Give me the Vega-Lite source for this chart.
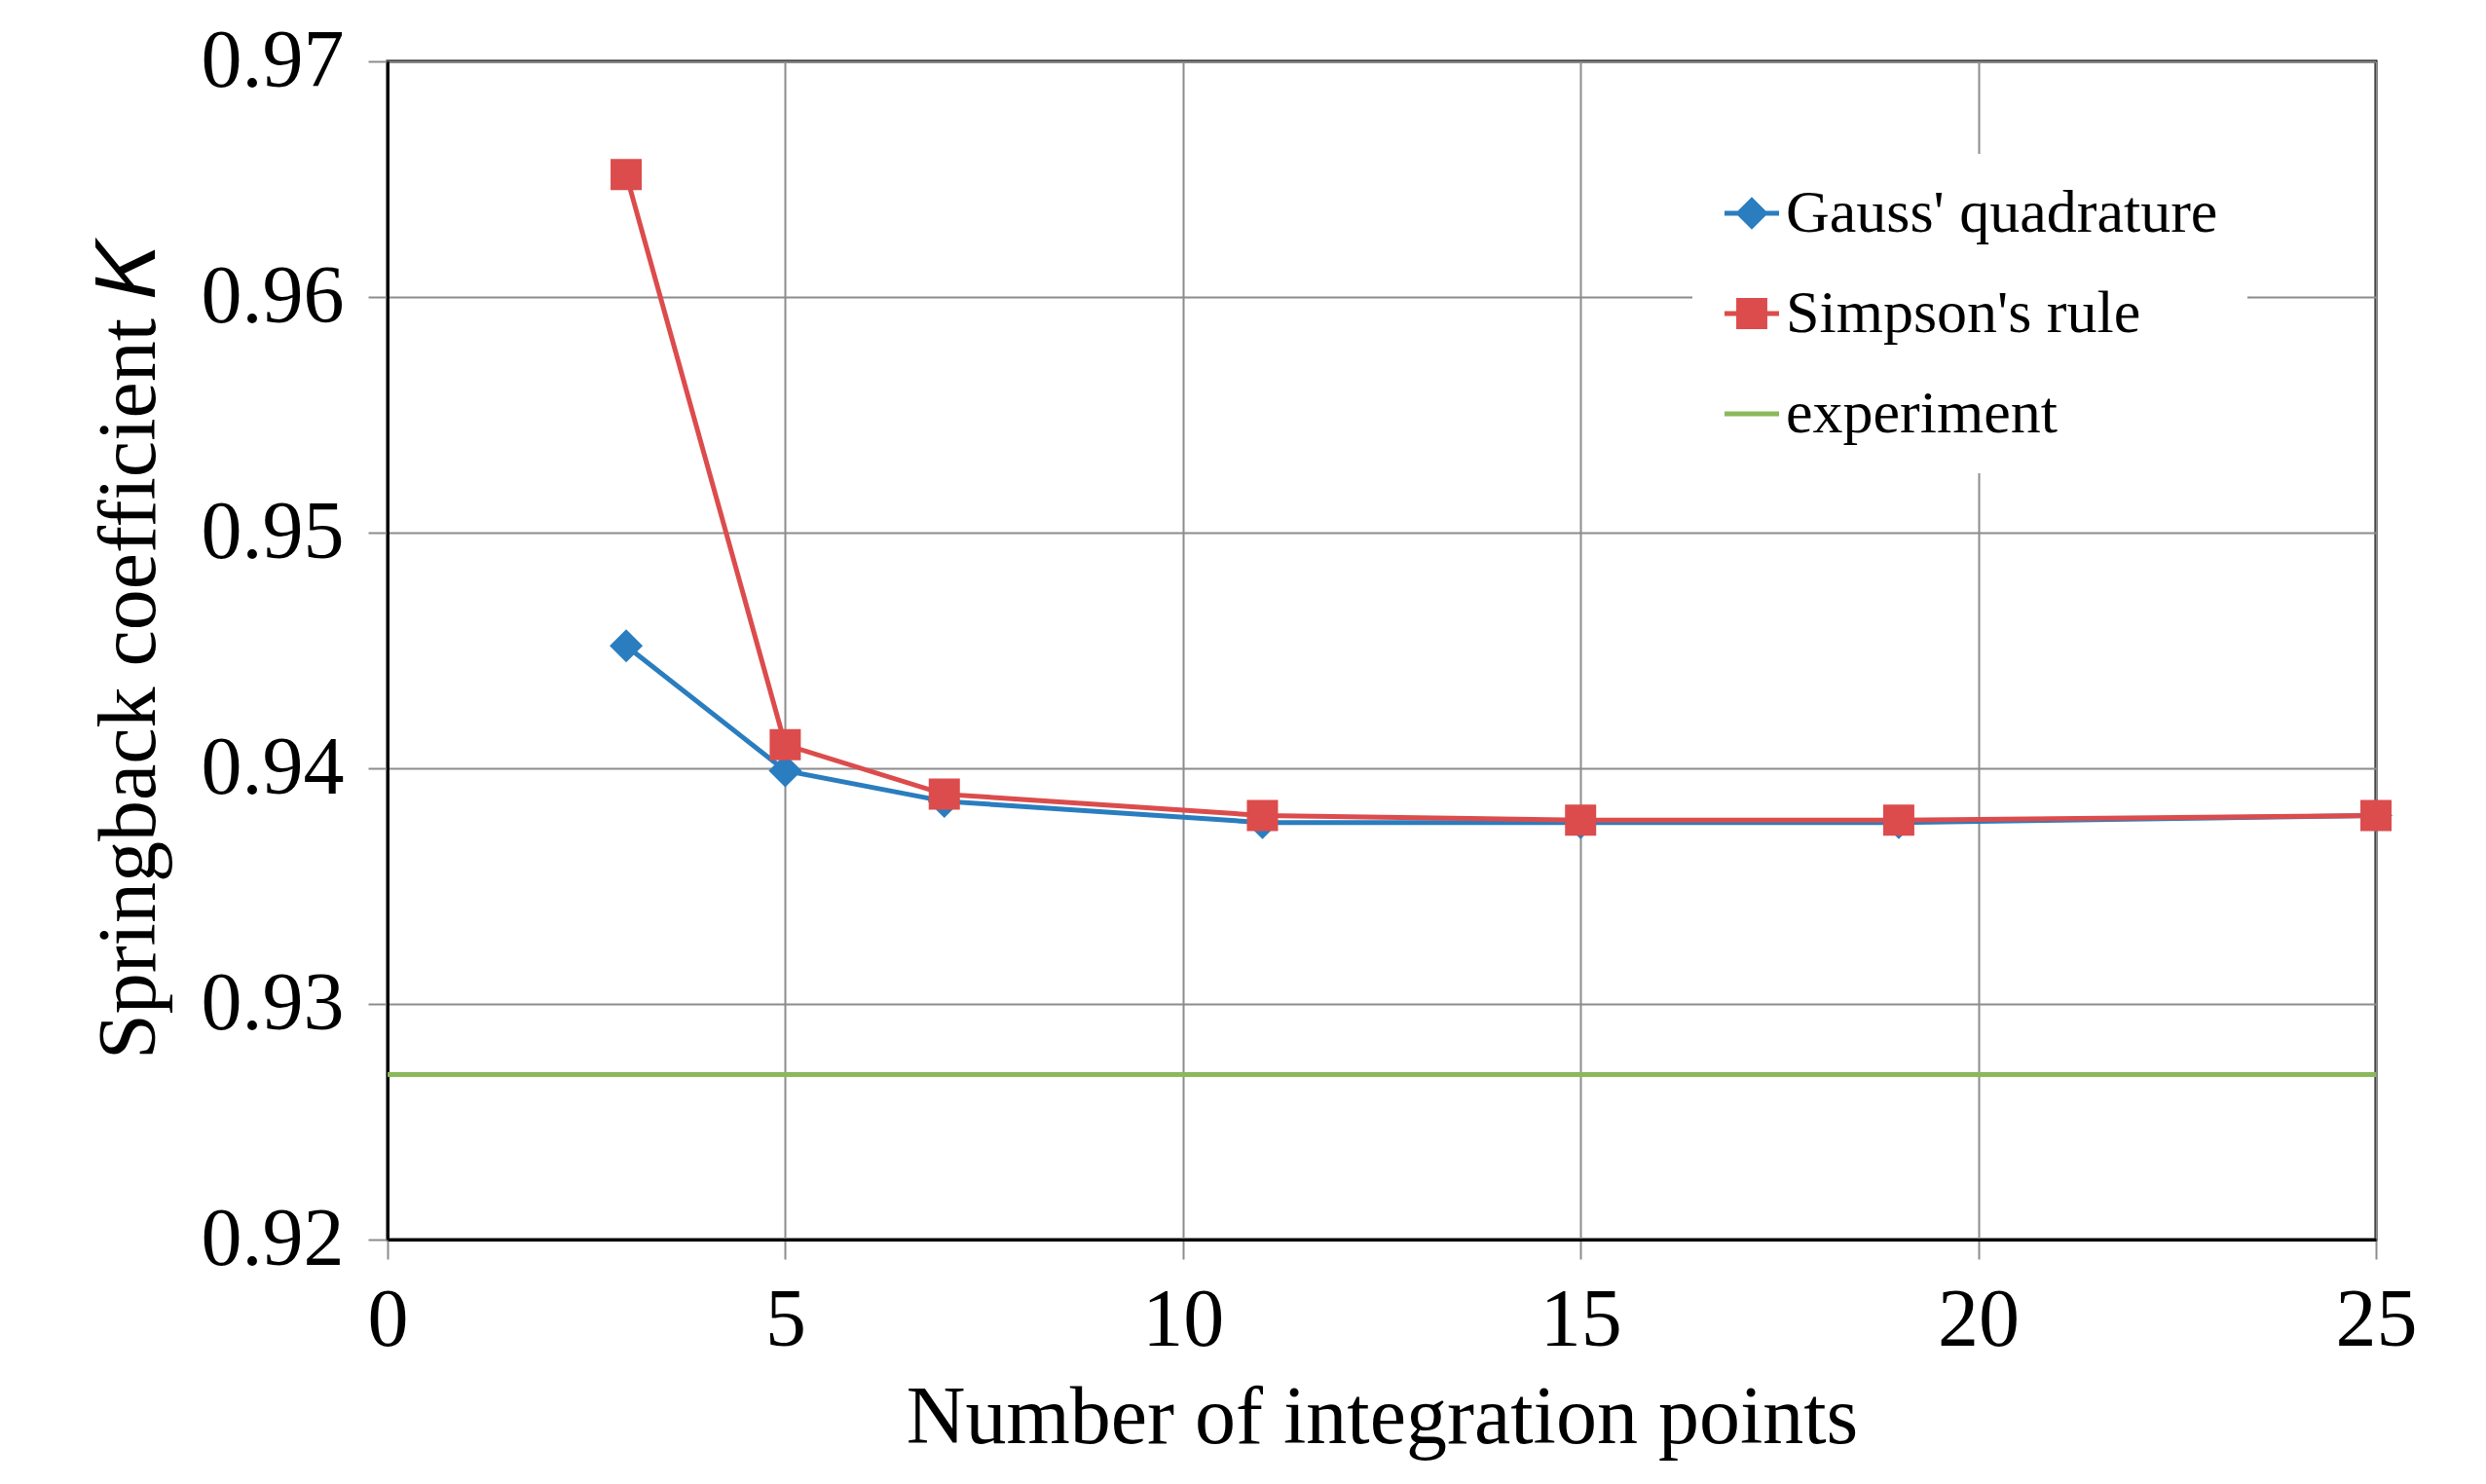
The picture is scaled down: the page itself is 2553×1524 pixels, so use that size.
{
  "$schema": "https://vega.github.io/schema/vega-lite/v6.json",
  "width": 2042,
  "height": 1210,
  "autosize": {"type": "none"},
  "padding": {"left": 398, "top": 63, "right": 113, "bottom": 251},
  "background": "white",
  "config": {
    "font": "Liberation Serif",
    "view": {"stroke": "black", "strokeWidth": 3},
    "axis": {
      "labelFont": "Liberation Serif",
      "labelFontSize": 84,
      "labelColor": "black",
      "titleFont": "Liberation Serif",
      "titleFontSize": 84,
      "titleFontWeight": "normal",
      "titleColor": "black",
      "gridColor": "#8c8c8c",
      "gridWidth": 2,
      "tickColor": "#8c8c8c",
      "tickWidth": 2,
      "tickSize": 20,
      "domainColor": "black",
      "domainWidth": 3,
      "labelFlush": false,
      "labelOverlap": false
    }
  },
  "datasets": {
    "series": [
      {"series": "Gauss' quadrature", "n": 3, "K": 0.9452},
      {"series": "Gauss' quadrature", "n": 5, "K": 0.9399},
      {"series": "Gauss' quadrature", "n": 7, "K": 0.9386},
      {"series": "Gauss' quadrature", "n": 11, "K": 0.9377},
      {"series": "Gauss' quadrature", "n": 15, "K": 0.9377},
      {"series": "Gauss' quadrature", "n": 19, "K": 0.9377},
      {"series": "Gauss' quadrature", "n": 25, "K": 0.9380},
      {"series": "Simpson's rule", "n": 3, "K": 0.9652},
      {"series": "Simpson's rule", "n": 5, "K": 0.9410},
      {"series": "Simpson's rule", "n": 7, "K": 0.9389},
      {"series": "Simpson's rule", "n": 11, "K": 0.9380},
      {"series": "Simpson's rule", "n": 15, "K": 0.9378},
      {"series": "Simpson's rule", "n": 19, "K": 0.9378},
      {"series": "Simpson's rule", "n": 25, "K": 0.9380}
    ],
    "experiment": [
      {"series": "experiment", "K": 0.927}
    ]
  },
  "layer": [
    {
      "data": {"name": "experiment"},
      "mark": {"type": "rule", "strokeWidth": 5},
      "encoding": {
        "y": {
          "field": "K",
          "type": "quantitative",
          "scale": {"domain": [0.92, 0.97], "nice": false, "zero": false},
          "axis": {
            "values": [0.92, 0.93, 0.94, 0.95, 0.96, 0.97],
            "format": ".2f",
            "labelPadding": 25,
            "titlePadding": 30
          },
          "title": "Springback coefficient 𝐾"
        },
        "color": {
          "field": "series",
          "type": "nominal",
          "scale": {
            "domain": ["Gauss' quadrature", "Simpson's rule", "experiment"],
            "range": ["#2a7dbe", "#dc4c4c", "#8cb85c"]
          },
          "legend": {
            "orient": "none",
            "legendX": 1340,
            "legendY": 95,
            "title": null,
            "fillColor": "white",
            "padding": 30,
            "rowPadding": 41,
            "labelFont": "Liberation Serif",
            "labelFontSize": 62,
            "labelColor": "black",
            "labelOffset": 4,
            "labelLimit": 1000,
            "symbolSize": 3136,
            "encode": {
              "symbols": {
                "update": {
                  "shape": {"signal": "indexof(datum.value, 'experiment') >= 0 ? 'M-1,-0.09L1,-0.09L1,0.09L-1,0.09Z' : indexof(datum.value, 'Gauss') >= 0 ? 'M-1,-0.09L1,-0.09L1,0.09L-1,0.09ZM-0.6,0L0,-0.6L0.6,0L0,0.6Z' : 'M-1,-0.09L1,-0.09L1,0.09L-1,0.09ZM-0.57,-0.57L0.57,-0.57L0.57,0.57L-0.57,0.57Z'"},
                  "fill": {"scale": "color", "field": "value"},
                  "stroke": {"value": "transparent"},
                  "strokeWidth": {"value": 0},
                  "opacity": {"value": 1}
                }
              }
            }
          }
        }
      }
    },
    {
      "data": {"name": "series"},
      "mark": {"type": "line", "strokeWidth": 5},
      "encoding": {
        "x": {
          "field": "n",
          "type": "quantitative",
          "scale": {"domain": [0, 25], "nice": false, "zero": false},
          "axis": {
            "values": [0, 5, 10, 15, 20, 25],
            "format": "d",
            "labelPadding": 22,
            "titlePadding": 17
          },
          "title": "Number of integration points"
        },
        "y": {"field": "K", "type": "quantitative"},
        "color": {"field": "series", "type": "nominal"}
      }
    },
    {
      "data": {"name": "series"},
      "transform": [{"filter": "datum.series === 'Gauss\\' quadrature'"}],
      "mark": {"type": "point", "shape": "diamond", "size": 1156, "filled": true, "opacity": 1},
      "encoding": {
        "x": {"field": "n", "type": "quantitative"},
        "y": {"field": "K", "type": "quantitative"},
        "color": {"field": "series", "type": "nominal"}
      }
    },
    {
      "data": {"name": "series"},
      "transform": [{"filter": "datum.series === 'Simpson\\'s rule'"}],
      "mark": {"type": "point", "shape": "square", "size": 1024, "filled": true, "opacity": 1},
      "encoding": {
        "x": {"field": "n", "type": "quantitative"},
        "y": {"field": "K", "type": "quantitative"},
        "color": {"field": "series", "type": "nominal"}
      }
    }
  ]
}
